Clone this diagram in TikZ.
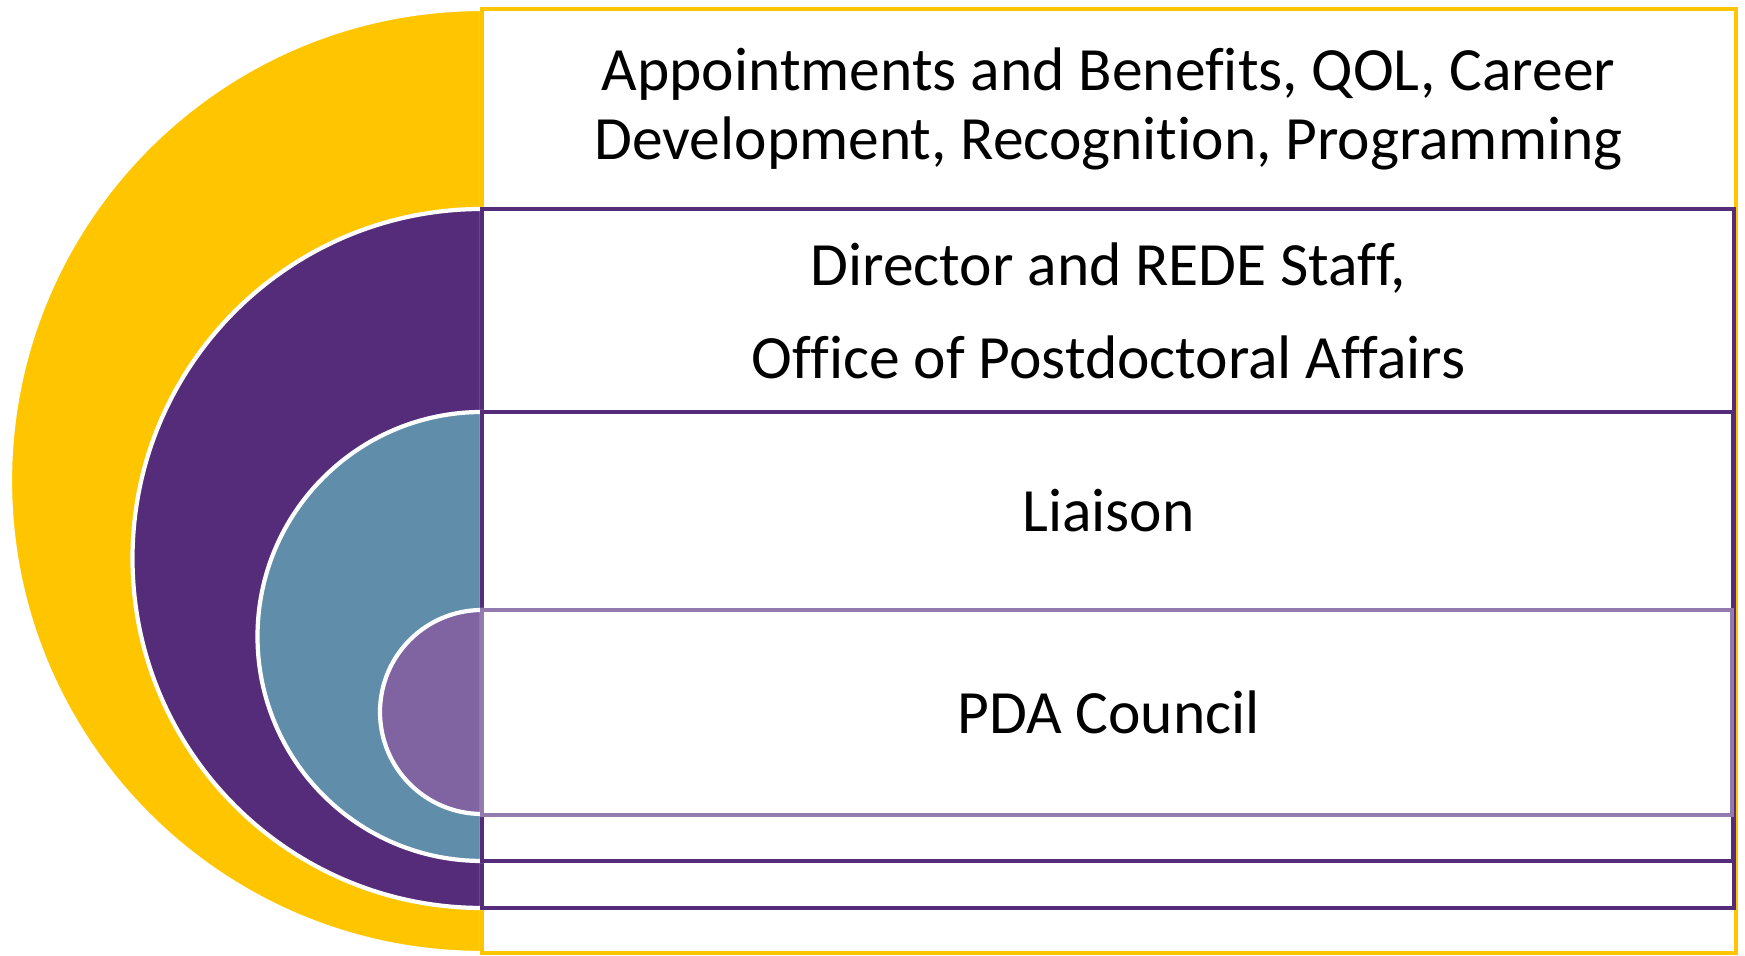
\documentclass[tikz,border=0pt]{standalone}
\usepackage{fontspec}
\setmainfont{Carlito}[Ligatures=NoCommon]
\definecolor{gold}{HTML}{FFC600}
\definecolor{darkpurple}{HTML}{542C7A}
\definecolor{steelteal}{HTML}{5F8DAA}
\definecolor{lightpurple}{HTML}{8064A2}
\tikzset{
  ring/.style={draw=white, line width=1.2pt},
  tier/.style={fill=white, line width=1.3pt},
  tierlabel/.style={font=\fontsize{17.5}{19.6}\selectfont, align=center}
}
\begin{document}
\begin{tikzpicture}
    \useasboundingbox (0,0) rectangle (17.45,9.56);
    % Outer ring
    \draw[ring, fill=gold] (4.82,9.47) arc (90:270:4.72) -- cycle;
    \draw[tier, draw=gold] (4.82,0.03) rectangle (17.36,9.47);

    % Second ring
    \draw[ring, fill=darkpurple] (4.82,7.47) arc (90:270:3.495) -- cycle;
    \draw[tier, draw=darkpurple] (4.82,0.48) rectangle (17.34,7.47);

    % Third ring
    \draw[ring, fill=steelteal] (4.82,5.44) arc (90:270:2.245) -- cycle;
    \draw[tier, draw=darkpurple] (4.82,0.95) rectangle (17.33,5.44);

    % Inner ring
    \draw[ring, fill=lightpurple] (4.82,3.46) arc (90:270:1.02) -- cycle;
    \draw[tier, draw=lightpurple!85!white] (4.82,1.41) rectangle (17.32,3.46);

    % Labels
    \node[tierlabel] (outer) at (11.085,8.47) {Appointments and Benefits, QOL, Career\\Development, Recognition, Programming};
    \node[tierlabel] (office) at (11.085,6.455) {Director and REDE Staff,\\[6.8pt]Office of Postdoctoral Affairs};
    \node[tierlabel] (liaison) at (11.085,4.45) {Liaison};
    \node[tierlabel] (council) at (11.085,2.44) {PDA Council};
\end{tikzpicture}
\end{document}
